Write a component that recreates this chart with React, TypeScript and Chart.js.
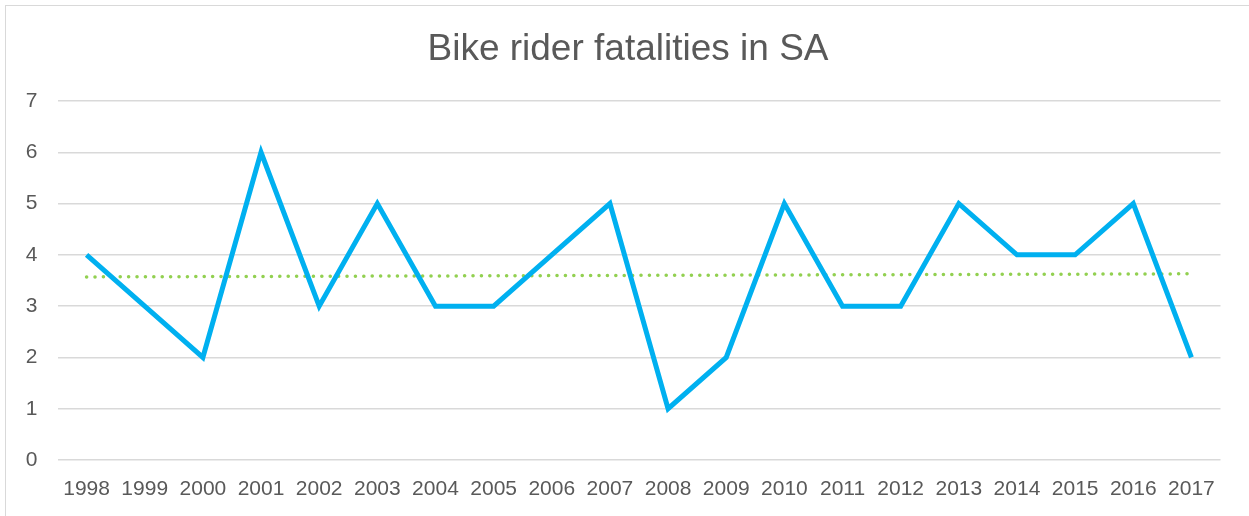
import React, { useEffect, useRef } from "react";
import { Chart, registerables } from "chart.js";

Chart.register(...registerables);

const years = ["1998","1999","2000","2001","2002","2003","2004","2005","2006","2007","2008","2009","2010","2011","2012","2013","2014","2015","2016","2017"];
const fatalities = [4, 3, 2, 6, 3, 5, 3, 3, 4, 5, 1, 2, 5, 3, 3, 5, 4, 4, 5, 2];
const trendStart = 3.57;
const trendEnd = 3.63;
const yTicks = [0, 1, 2, 3, 4, 5, 6, 7];

const FONT = "'Liberation Sans', Arial, sans-serif";

export default function App() {
  const ref = useRef<HTMLCanvasElement>(null);
  useEffect(() => {
    const trend = years.map((_, i) => (i === 0 ? trendStart : i === years.length - 1 ? trendEnd : null));
    const chart = new Chart(ref.current!, {
      type: "line",
      data: {
        labels: years,
        datasets: [
          {
            label: "Trend",
            data: trend,
            spanGaps: true,
            borderColor: "#92D050",
            borderWidth: 3.5,
            borderDash: [0.1, 8.3],
            borderCapStyle: "round",
            pointRadius: 0,
            fill: false,
            order: 2,
          },
          {
            label: "Fatalities",
            data: fatalities,
            borderColor: "#00B0F0",
            borderWidth: 5,
            pointRadius: 0,
            tension: 0,
            fill: false,
            borderJoinStyle: "miter",
            order: 1,
          },
        ],
      },
      options: {
        animation: false,
        responsive: false,
        layout: { padding: { left: 0, right: 0, top: 0, bottom: 0 } },
        plugins: {
          legend: { display: false },
          tooltip: { enabled: false },
          title: {
            display: true,
            text: "Bike rider fatalities in SA",
            color: "#595959",
            font: { family: FONT, size: 37, weight: "normal" },
            padding: { top: 28, bottom: 28.6 },
          },
        },
        scales: {
          x: {
            offset: true,
            grid: { display: false, drawTicks: false },
            border: { display: false },
            ticks: {
              color: "#595959",
              font: { family: FONT, size: 21 },
              padding: 17,
              maxRotation: 0,
              autoSkip: false,
            },
            afterFit: (s: any) => { s.height = 56; },
          },
          y: {
            min: 0,
            max: 7,
            afterBuildTicks: (s: any) => { s.ticks = yTicks.map((v) => ({ value: v })); },
            grid: { color: "#D9D9D9", lineWidth: 1.5, drawTicks: false },
            border: { display: false },
            ticks: {
              color: "#595959",
              font: { family: FONT, size: 21 },
              padding: 20,
            },
            afterFit: (s: any) => { s.width = 57.5; },
          },
          yRight: {
            position: "right",
            display: true,
            min: 0,
            max: 7,
            grid: { display: false, drawTicks: false },
            border: { display: false },
            ticks: { display: false },
            afterFit: (s: any) => { s.width = 35.5; },
          },
        },
      },
    });
    return () => chart.destroy();
  }, []);
  return (
    <div style={{ position: "fixed", left: 0, top: 0, width: 1249, height: 516, background: "#fff", overflow: "hidden" }}>
      <div style={{ position: "absolute", left: 5, top: 5, width: 1300, height: 600, border: "1.5px solid #D9D9D9", boxSizing: "border-box" }} />
      <canvas ref={ref} width={1256} height={516} style={{ position: "absolute", left: 0, top: 0 }} />
    </div>
  );
}
